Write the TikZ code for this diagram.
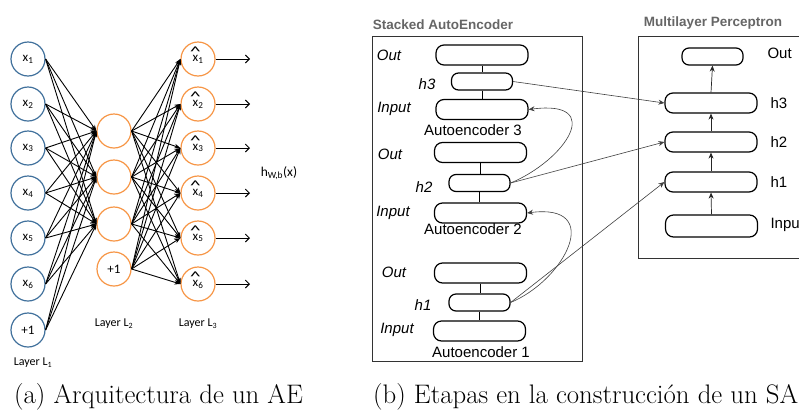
\documentclass[tikz,border=0pt]{standalone}
\usepackage{fontspec}
\newfontfamily\carl{Carlito}
\newfontfamily\ars{Liberation Sans}
\usetikzlibrary{arrows.meta,calc}
\definecolor{aeblue}{HTML}{41719C}
\definecolor{aeorange}{HTML}{F79646}
\definecolor{ttlgray}{HTML}{666666}
\definecolor{lnk}{HTML}{404040}
\newcommand\xh[1]{\leavevmode\hbox{\ooalign{x\cr\hidewidth\raisebox{0.72ex}{\scalebox{1.7}[1.1]{\^{}}}\hidewidth\cr}}\textsubscript{#1}}
\begin{document}
\begin{tikzpicture}[x=1pt,y=-1pt,
  neu/.style={circle, line width=1.2pt, minimum size=34pt, inner sep=0pt, font=\carl\fontsize{13}{13}\selectfont},
  bl/.style={neu, draw=aeblue},
  og/.style={neu, draw=aeorange},
  net/.style={-{Stealth[length=6pt,width=4.5pt]}, line width=0.9pt},
  outarr/.style={-{Straight Barb[length=4pt,width=8pt]}, line width=0.9pt},
  lbl/.style={font=\carl\fontsize{12}{12}\selectfont},
  bigb/.style={draw, rounded corners=8pt, line width=1.2pt, minimum width=92pt, minimum height=20pt, inner sep=0pt},
  smb/.style={draw, rounded corners=7pt, line width=1.2pt, minimum width=61pt, minimum height=17pt, inner sep=0pt},
  itl/.style={font=\ars\itshape\fontsize{15}{15}\selectfont},
  rgl/.style={font=\ars\fontsize{15}{15}\selectfont},
  ttl/.style={font=\ars\bfseries\fontsize{13.5}{13.5}\selectfont, text=ttlgray},
  link/.style={draw=lnk, line width=0.6pt, -{Stealth[length=6pt,width=5pt]}},
  captxt/.style={font=\fontsize{26.8}{27}\selectfont, anchor=base west, inner sep=0pt}
]
\useasboundingbox (0,0) rectangle (799,410);
\clip (0,0) rectangle (799,410);
\fill[white] (0,0) rectangle (799,410);

% ---------- (a) autoencoder ----------
\foreach \i/\y in {1/59,2/104,3/148,4/193,5/238,6/284}{
  \node[bl] (a\i) at (28,\y) {x\textsubscript{\i}};
  \node[og] (c\i) at (198,\y) {\xh{\i}};
}
\node[bl] (a7) at (28,330) {+1};
\node[og] (b1) at (114,131) {};
\node[og] (b2) at (114,177) {};
\node[og] (b3) at (114,224) {};
\node[og] (b4) at (114,269) {+1};
\foreach \i in {1,...,7}{\foreach \j in {1,2,3}{\draw[net] (a\i.east) -- (b\j.west);}}
\foreach \i in {1,...,4}{\foreach \j in {1,...,6}{\draw[net] (b\i.east) -- (c\j.west);}}
\foreach \j/\y in {1/59,2/104,3/148,4/193,5/238,6/284}{
  \coordinate (o\j) at (250,\y);
  \draw[outarr] (c\j.east) -- (o\j);
}
\node[lbl, font=\carl\fontsize{13.5}{13.5}\selectfont] (hwb) at (279,173) {h\textsubscript{W,b}(x)};
\node[lbl] (l1) at (33,363) {Layer L\textsubscript{1}};
\node[lbl] (l2) at (114,324) {Layer L\textsubscript{2}};
\node[lbl] (l3) at (198,324) {Layer L\textsubscript{3}};

% ---------- (b) stacked autoencoder ----------
\node[ttl] (t1) at (443,25) {Stacked AutoEncoder};
\draw[line width=0.8pt, draw=black!80] (372,36) rectangle (582,361);
\node[bigb] (o3) at (482,55) {};
\node[smb]  (h3) at (482,81.5) {};
\node[bigb] (i3) at (482,109.5) {};
\node[bigb] (o2) at (480.5,152.5) {};
\node[smb]  (h2) at (479.5,183) {};
\node[bigb] (i2) at (480.5,213) {};
\node[bigb] (o1) at (480.5,273) {};
\node[smb]  (h1) at (479.5,302.5) {};
\node[bigb] (i1) at (479.5,331) {};
\foreach \k in {1,2,3}{
  \draw[line width=1pt] (o\k.south) -- (o\k.south |- h\k.north);
  \draw[line width=1pt] (h\k.south) -- (h\k.south |- i\k.north);
}
\node[rgl] (ae3) at (473,130) {Autoencoder 3};
\node[rgl] (ae2) at (473,229) {Autoencoder 2};
\node[rgl] (ae1) at (481,352) {Autoencoder 1};
\node[itl] (lo3) at (389,55) {Out};
\node[itl] (lh3) at (427,84) {h3};
\node[itl] (li3) at (394,109) {Input};
\node[itl] (lo2) at (390,154) {Out};
\node[itl] (lh2) at (424,187) {h2};
\node[itl] (li2) at (393,213) {Input};
\node[itl] (lo1) at (394,272) {Out};
\node[itl] (lh1) at (423,305) {h1};
\node[itl] (li1) at (397,330) {Input};

% ---------- multilayer perceptron ----------
\node[ttl] (t2) at (713,23) {Multilayer Perceptron};
\draw[line width=0.8pt, draw=black!80] (638,36) -- (638,258) -- (810,258);
\draw[line width=0.8pt, draw=black!80] (638,36) -- (810,36);
\node[smb]  (mo) at (712.5,56.5) {};
\node[bigb] (m3) at (711,103) {};
\node[bigb] (m2) at (711,142) {};
\node[bigb] (m1) at (711,182) {};
\node[bigb, minimum height=22pt] (mi) at (711.5,226) {};
\draw[link, draw=black!85, line width=0.7pt] (mi.north) -- (m1.south);
\draw[link, draw=black!85, line width=0.7pt] (m1.north) -- (m2.south);
\draw[link, draw=black!85, line width=0.7pt] (m2.north) -- (m3.south);
\draw[link, draw=black!85, line width=0.7pt] (m3.north) -- (mo.south);
\node[rgl, anchor=west] (mlo) at (764,53) {Out};
\node[rgl, anchor=west] (ml3) at (767,103) {h3};
\node[rgl, anchor=west] (ml2) at (767,142) {h2};
\node[rgl, anchor=west] (ml1) at (767,182) {h1};
\node[rgl, anchor=west] (mli) at (767,225) {Input};

% ---------- links ----------
\draw[link] (h3.east) -- (m3.west);
\draw[link] (h2.east) -- (m2.west);
\draw[link] (h1.east) -- (m1.west);
\draw[link] (h2.east) .. controls ($(h2.east)+(55,-23)$) and ($(i3.east)+(77,-10)$) .. (i3.east);
\draw[link] (h1.east) .. controls ($(h1.east)+(55,-23)$) and ($(i2.east)+(77,-10)$) .. (i2.east);

% ---------- captions ----------
\node[captxt] (capa) at (14,403) {(a) Arquitectura de un AE};
\node[captxt] (capb) at (373,403) {(b) Etapas en la construcción de un SAE};
\end{tikzpicture}
\end{document}
